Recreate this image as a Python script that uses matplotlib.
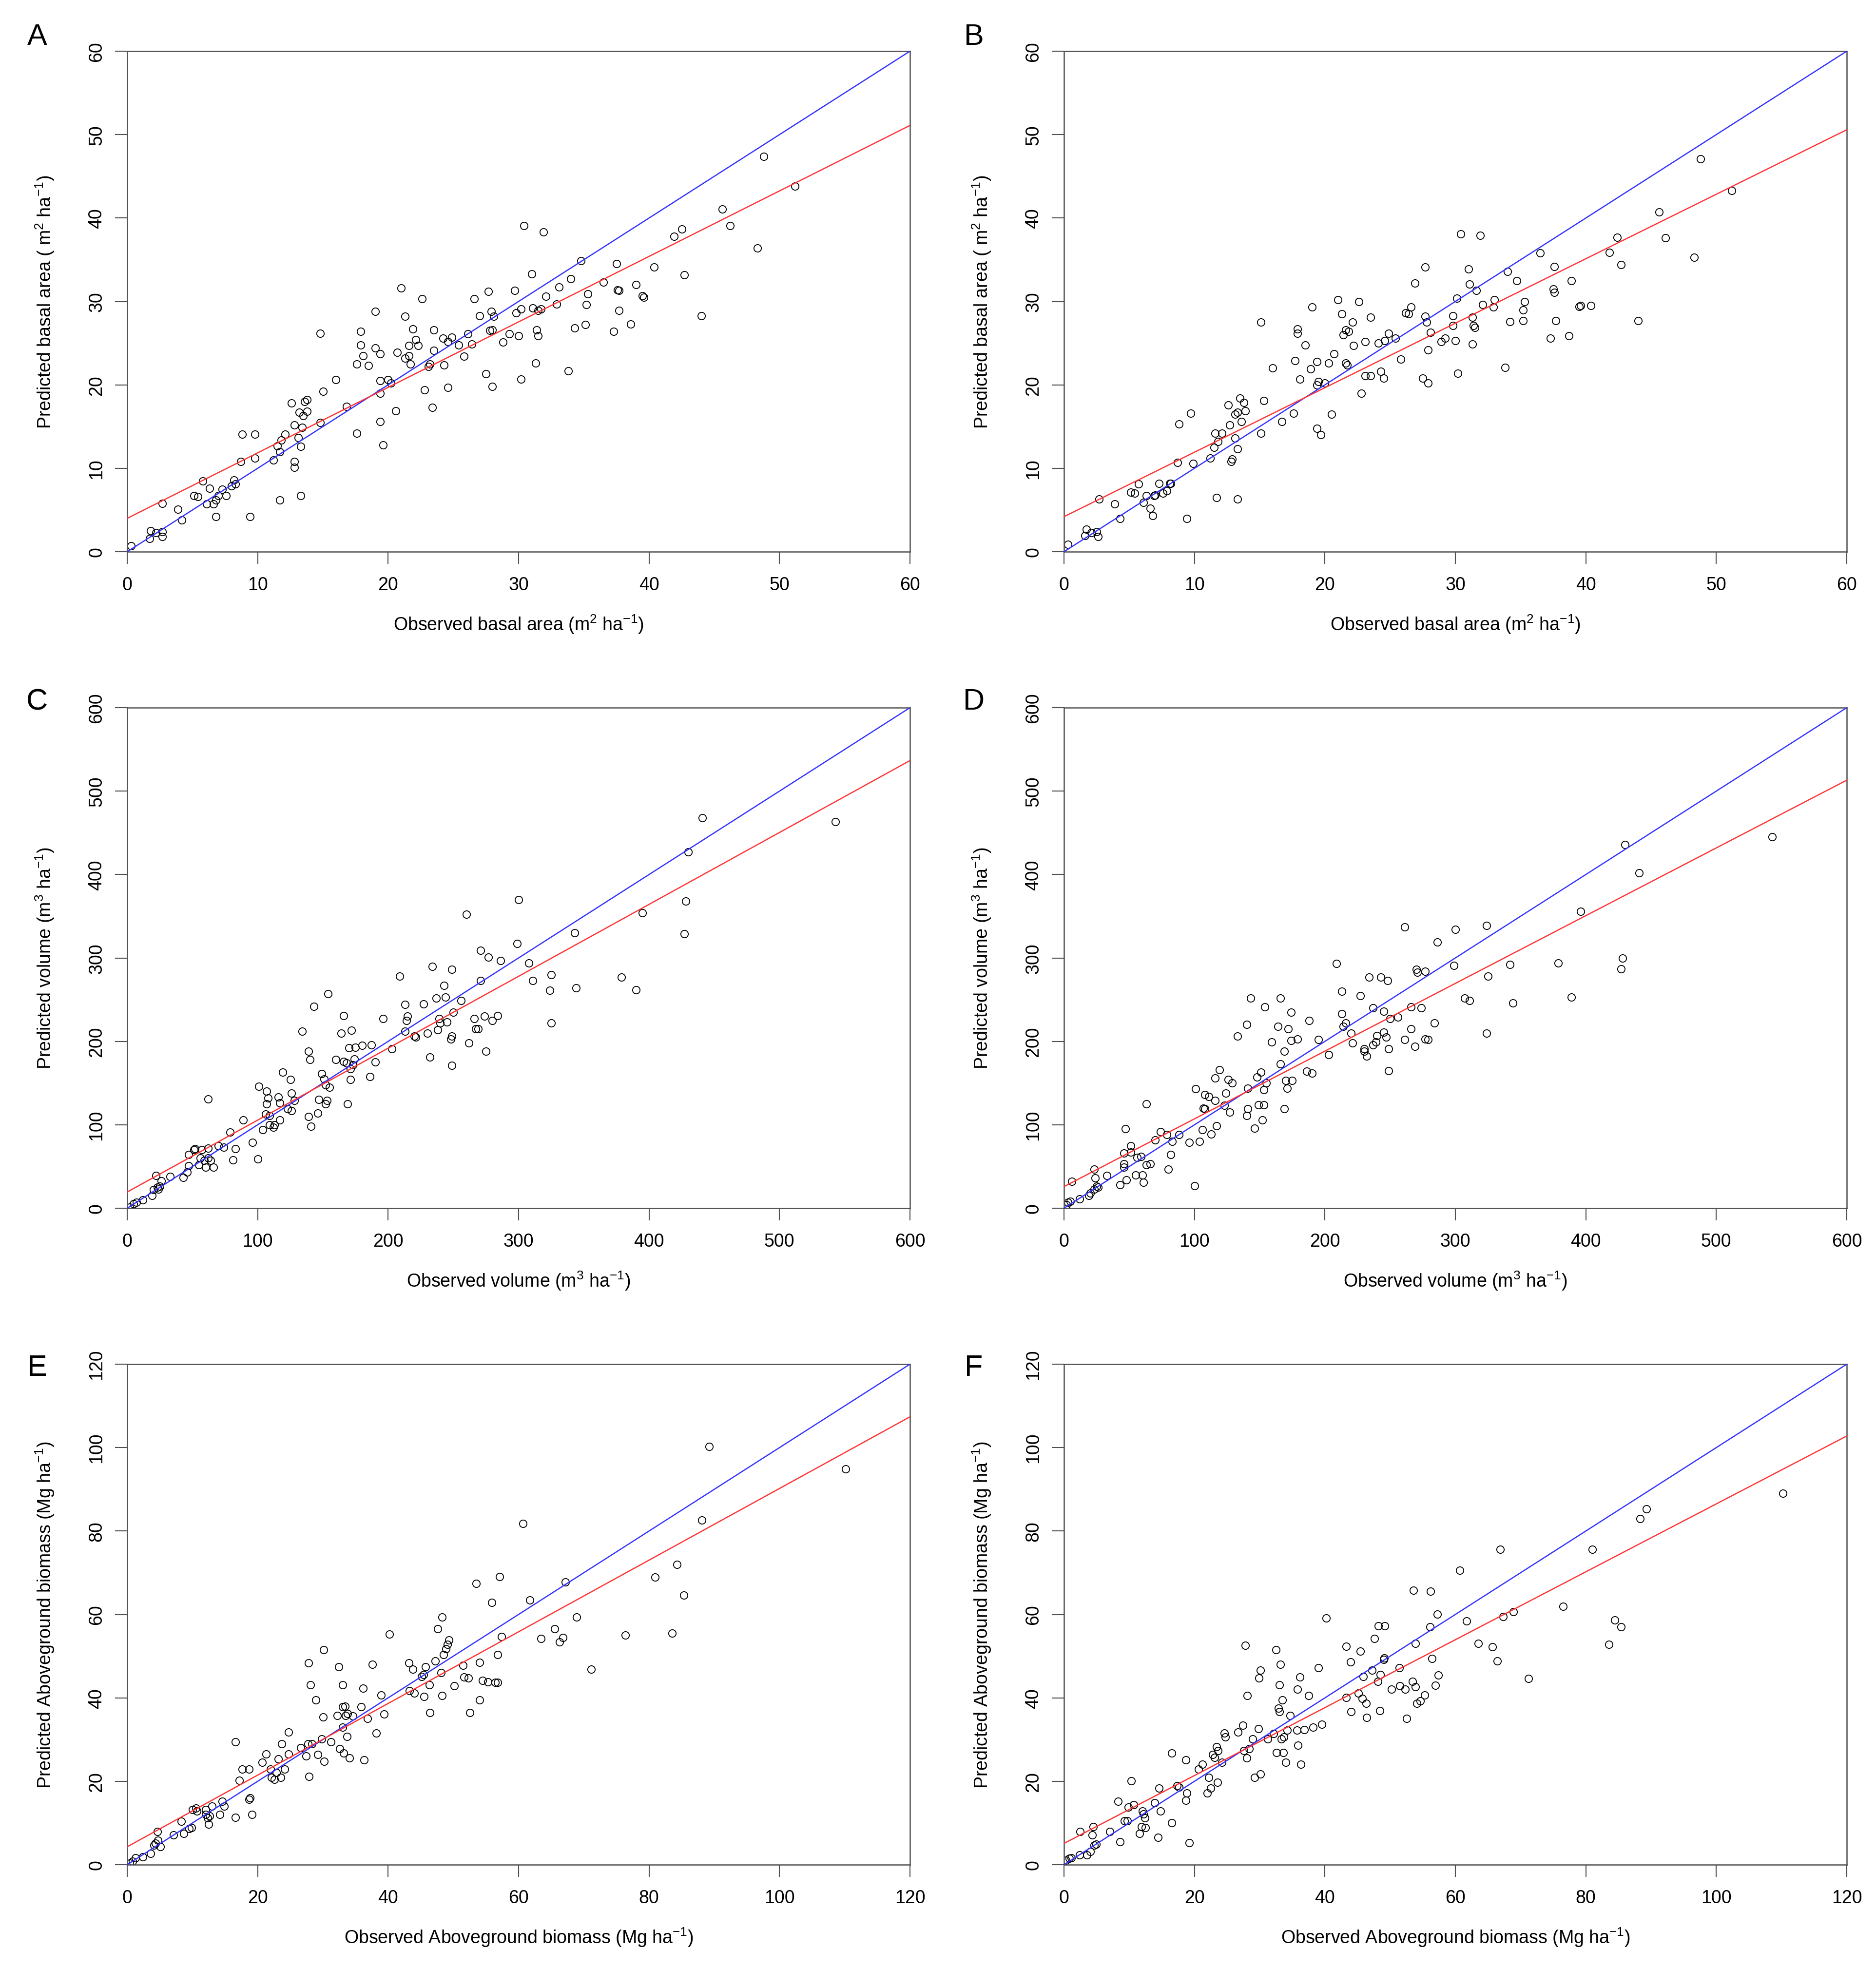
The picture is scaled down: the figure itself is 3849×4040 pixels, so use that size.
import numpy as np
import matplotlib
matplotlib.use('Agg')
import matplotlib.pyplot as plt

plt.rcParams['font.family'] = ['Liberation Sans', 'DejaVu Sans']
plt.rcParams['mathtext.fontset'] = 'custom'
plt.rcParams['mathtext.rm'] = 'Liberation Sans'
plt.rcParams['mathtext.it'] = 'Liberation Sans'
plt.rcParams['mathtext.default'] = 'regular'

# panel A: basal area, observed vs predicted
a_obs = [0.3, 1.7, 1.8, 2.2, 2.7, 2.7, 2.7, 3.9, 4.2, 5.1, 5.4, 5.8, 6.1, 6.3, 6.6, 6.8, 6.8, 7.0, 7.3, 7.6,
         8.0, 8.2, 8.3, 8.8, 8.7, 9.4, 9.8, 9.8, 11.2, 11.5, 11.7, 11.7, 11.8, 12.1, 12.6, 12.8, 12.8, 12.8, 13.1, 13.2,
         13.3, 13.3, 13.4, 13.5, 13.6, 13.8, 13.8, 14.8, 14.8, 15.0, 16.0, 16.8, 17.6, 17.6, 17.9, 17.9, 18.1, 18.5, 19.0, 19.0,
         19.4, 19.4, 19.4, 19.4, 19.6, 20.0, 20.2, 20.6, 20.7, 21.0, 21.3, 21.3, 21.6, 21.7, 21.6, 21.9, 22.1, 22.3, 22.6, 22.8,
         23.1, 23.2, 23.4, 23.5, 23.5, 24.2, 24.3, 24.6, 24.6, 24.9, 25.4, 25.8, 26.1, 26.4, 26.6, 27.0, 27.5, 27.7, 27.8, 27.9,
         28.0, 28.0, 28.1, 28.8, 29.3, 29.7, 29.8, 30.0, 30.2, 30.2, 30.4, 31.0, 31.1, 31.3, 31.4, 31.5, 31.5, 31.7, 31.9, 32.1,
         32.9, 33.1, 33.8, 34.0, 34.3, 34.8, 35.1, 35.2, 35.3, 36.5, 37.3, 37.5, 37.6, 37.7, 37.7, 38.6, 39.0, 39.5, 39.6, 40.4,
         41.9, 42.5, 42.7, 44.0, 45.6, 46.2, 48.3, 48.8, 51.2]
a_pred = [0.7, 1.6, 2.5, 2.3, 2.4, 1.8, 5.8, 5.1, 3.8, 6.7, 6.6, 8.5, 5.7, 7.6, 5.7, 6.2, 4.2, 6.7, 7.5, 6.7,
          7.9, 8.6, 8.1, 14.1, 10.8, 4.2, 14.1, 11.2, 11.0, 12.7, 6.2, 12.0, 13.4, 14.1, 17.8, 15.2, 10.8, 10.1, 13.7, 16.7,
          12.6, 6.7, 14.9, 16.3, 18.0, 18.2, 16.8, 26.2, 15.5, 19.2, 20.6, 17.4, 14.2, 22.5, 26.4, 24.8, 23.5, 22.3, 28.8, 24.4,
          23.7, 19.0, 20.5, 15.6, 12.8, 20.6, 20.2, 16.9, 23.9, 31.6, 28.2, 23.2, 23.5, 22.5, 24.7, 26.7, 25.4, 24.7, 30.3, 19.4,
          22.2, 22.5, 17.3, 24.1, 26.6, 25.6, 22.4, 25.2, 19.7, 25.7, 24.8, 23.4, 26.1, 24.9, 30.3, 28.3, 21.3, 31.2, 26.5, 28.8,
          26.6, 19.8, 28.2, 25.1, 26.1, 31.3, 28.6, 25.9, 29.1, 20.7, 39.1, 33.3, 29.2, 22.6, 26.6, 25.9, 28.9, 29.1, 38.3, 30.6,
          29.7, 31.7, 21.7, 32.7, 26.8, 34.9, 27.2, 29.6, 30.9, 32.3, 26.4, 34.5, 31.4, 31.3, 28.9, 27.3, 32.0, 30.7, 30.5, 34.1,
          37.8, 38.7, 33.2, 28.3, 41.1, 39.1, 36.4, 47.4, 43.8]

# panel B: basal area, second model
b_obs = [0.3, 1.7, 1.6, 2.1, 2.5, 2.6, 2.7, 3.9, 4.3, 5.1, 5.4, 5.7, 6.1, 6.3, 6.6, 6.8, 6.9, 7.0, 7.3, 7.6,
         7.9, 8.1, 8.2, 8.7, 8.8, 9.4, 9.7, 9.9, 11.2, 11.5, 11.7, 11.8, 11.6, 12.1, 12.6, 12.7, 12.8, 12.9, 13.1, 13.1,
         13.3, 13.3, 13.3, 13.5, 13.6, 13.8, 13.9, 15.1, 15.1, 15.3, 16.0, 16.7, 17.6, 17.7, 17.9, 17.9, 18.1, 18.5, 18.9, 19.0,
         19.4, 19.4, 19.4, 19.7, 19.5, 20.0, 20.3, 20.5, 20.7, 21.0, 21.3, 21.4, 21.6, 21.6, 21.7, 21.8, 22.1, 22.2, 22.6, 22.8,
         23.1, 23.5, 23.1, 23.5, 24.1, 24.3, 24.5, 24.6, 24.9, 25.4, 25.8, 26.2, 26.4, 26.6, 26.9, 27.5, 27.7, 27.7, 27.8, 27.9,
         27.9, 28.1, 28.9, 29.2, 29.8, 29.8, 30.0, 30.1, 30.2, 30.4, 31.0, 31.1, 31.3, 31.3, 31.4, 31.5, 31.6, 31.9, 32.1, 32.9,
         33.0, 33.8, 34.0, 34.2, 34.7, 35.2, 35.2, 35.3, 36.5, 37.3, 37.5, 37.6, 37.6, 37.7, 38.7, 38.9, 39.5, 39.6, 40.4, 41.8,
         42.4, 42.7, 44.0, 45.6, 46.1, 48.3, 48.8, 51.2]
b_pred = [0.9, 2.7, 1.9, 2.3, 2.4, 1.8, 6.3, 5.7, 4.0, 7.1, 7.0, 8.1, 5.9, 6.7, 5.2, 4.3, 6.7, 6.8, 8.2, 7.0,
          7.3, 8.2, 8.2, 10.7, 15.3, 4.0, 16.6, 10.6, 11.2, 12.5, 6.5, 13.2, 14.2, 14.2, 17.6, 15.2, 10.8, 11.1, 13.6, 16.5,
          12.3, 6.3, 16.7, 18.4, 15.6, 17.9, 16.9, 27.5, 14.2, 18.1, 22.0, 15.6, 16.6, 22.9, 26.7, 26.2, 20.7, 24.8, 21.9, 29.3,
          22.8, 20.0, 14.8, 14.0, 20.4, 20.2, 22.6, 16.5, 23.7, 30.2, 28.5, 26.0, 22.6, 26.6, 22.4, 26.4, 27.5, 24.7, 30.0, 19.0,
          21.1, 21.1, 25.2, 28.1, 25.0, 21.6, 20.8, 25.3, 26.2, 25.6, 23.1, 28.6, 28.5, 29.3, 32.2, 20.8, 34.1, 28.2, 27.5, 20.2,
          24.2, 26.3, 25.2, 25.6, 28.3, 27.1, 25.3, 30.4, 21.4, 38.1, 33.9, 32.1, 24.9, 28.1, 27.1, 26.9, 31.3, 37.9, 29.6, 29.3,
          30.2, 22.1, 33.6, 27.6, 32.5, 29.0, 27.7, 30.0, 35.8, 25.6, 31.5, 34.2, 31.1, 27.7, 25.9, 32.5, 29.4, 29.5, 29.5, 35.9,
          37.7, 34.4, 27.7, 40.7, 37.6, 35.3, 47.1, 43.3]

# panel C: volume
c_obs = [2, 5, 7, 12, 19, 20, 22, 23, 24, 25, 26, 33, 43, 46, 47, 47, 51, 52, 55, 56,
         57, 59, 60, 62, 62, 62, 64, 66, 70, 74, 79, 81, 83, 89, 96, 100, 101, 104, 106, 107,
         107, 108, 109, 109, 112, 113, 116, 117, 117, 119, 123, 125, 126, 126, 128, 134, 139, 140, 139, 141,
         143, 146, 147, 149, 151, 152, 152, 153, 154, 155, 160, 164, 166, 166, 168, 169, 170, 171, 171, 172,
         173, 174, 175, 180, 186, 187, 190, 196, 203, 209, 213, 213, 214, 215, 220, 221, 227, 230, 232, 234,
         237, 238, 239, 240, 243, 244, 245, 248, 249, 249, 249, 250, 256, 260, 262, 266, 267, 269, 271, 271,
         274, 275, 277, 280, 284, 286, 299, 300, 308, 311, 324, 325, 325, 343, 344, 379, 390, 395, 427, 428,
         430, 441, 543]
c_pred = [1, 5, 7, 10, 15, 22, 39, 25, 23, 26, 33, 38, 37, 43, 51, 64, 70, 71, 52, 60,
          70, 57, 49, 131, 72, 60, 57, 49, 75, 73, 91, 58, 71, 106, 79, 59, 146, 94, 113, 140,
          125, 132, 111, 100, 97, 100, 133, 106, 126, 163, 119, 154, 138, 117, 129, 212, 188, 178, 110, 98,
          242, 114, 130, 161, 155, 125, 148, 129, 257, 145, 178, 210, 231, 176, 174, 125, 192, 167, 154, 213,
          172, 179, 193, 195, 158, 196, 175, 227, 191, 278, 244, 212, 225, 230, 206, 205, 245, 210, 181, 290,
          252, 214, 227, 222, 267, 253, 223, 203, 206, 286, 171, 235, 249, 352, 198, 227, 215, 215, 273, 309,
          230, 188, 301, 225, 231, 297, 317, 370, 294, 273, 261, 222, 280, 330, 264, 277, 262, 354, 329, 368,
          427, 468, 463]

# panel D: volume, second model
d_obs = [2, 3, 5, 6, 12, 19, 20, 23, 23, 24, 25, 26, 33, 43, 46, 46, 47, 48, 46, 51,
         51, 55, 56, 59, 60, 61, 63, 63, 66, 70, 74, 79, 80, 82, 83, 88, 96, 100, 101, 104,
         106, 107, 108, 108, 111, 113, 116, 116, 117, 119, 123, 124, 126, 127, 129, 133, 140, 140, 141, 141,
         143, 146, 148, 149, 151, 152, 153, 153, 154, 155, 159, 164, 166, 166, 169, 169, 170, 171, 172, 174,
         174, 175, 179, 186, 188, 190, 195, 203, 209, 213, 213, 214, 216, 220, 221, 227, 230, 230, 232, 234,
         237, 237, 239, 240, 243, 245, 245, 247, 248, 249, 249, 250, 256, 261, 261, 266, 266, 269, 270, 271,
         274, 277, 277, 279, 284, 286, 299, 300, 307, 311, 324, 324, 325, 342, 344, 379, 389, 396, 427, 428,
         430, 441, 543]
d_pred = [4, 7, 8, 32, 11, 15, 18, 23, 47, 36, 26, 25, 39, 28, 49, 53, 95, 34, 66, 67,
          75, 40, 61, 62, 40, 31, 125, 52, 53, 82, 92, 88, 47, 64, 80, 88, 79, 27, 143, 80,
          94, 120, 136, 119, 134, 89, 156, 129, 99, 166, 123, 138, 154, 115, 150, 206, 111, 220, 144, 119,
          252, 96, 157, 124, 163, 106, 142, 124, 241, 150, 199, 218, 252, 173, 119, 188, 153, 144, 215, 235,
          201, 153, 203, 164, 225, 162, 202, 184, 293, 260, 233, 218, 222, 210, 198, 255, 191, 188, 182, 277,
          240, 196, 199, 207, 277, 236, 211, 205, 273, 191, 165, 227, 229, 337, 202, 241, 215, 194, 286, 283,
          240, 284, 203, 202, 222, 319, 291, 334, 252, 249, 339, 210, 278, 292, 246, 294, 253, 356, 287, 300,
          436, 402, 445]

# panel E: aboveground biomass
e_obs = [0.4, 0.8, 1.3, 2.4, 3.6, 4.1, 4.3, 4.6, 4.7, 5.1, 7.1, 8.3, 8.7, 9.5, 9.9, 10.0, 10.5, 10.7, 12.0, 12.0,
         12.3, 12.5, 12.6, 13.0, 14.2, 14.6, 14.9, 16.6, 16.6, 17.2, 17.6, 18.7, 18.7, 18.8, 19.1, 20.7, 21.3, 22.0, 22.1, 22.6,
         22.9, 23.2, 23.5, 23.7, 24.1, 24.7, 24.7, 26.6, 27.4, 27.7, 27.8, 27.9, 28.1, 28.3, 28.9, 29.2, 29.8, 30.0, 30.1, 30.2,
         31.2, 32.2, 32.4, 32.6, 33.0, 33.0, 33.0, 33.2, 33.4, 33.5, 33.7, 33.8, 34.1, 34.6, 35.9, 36.2, 36.3, 36.8, 37.6, 38.2,
         38.9, 39.4, 40.2, 43.2, 43.3, 43.8, 44.0, 45.1, 45.4, 45.5, 45.7, 46.3, 46.4, 47.2, 47.6, 48.1, 48.3, 48.3, 48.5, 48.9,
         49.1, 49.3, 50.1, 51.5, 51.6, 52.3, 52.5, 53.5, 54.0, 54.0, 54.5, 55.3, 55.9, 56.4, 56.8, 56.8, 57.1, 57.4, 60.7, 61.7,
         63.4, 65.5, 66.3, 66.8, 67.2, 68.9, 71.1, 76.4, 80.9, 83.5, 84.3, 85.3, 88.1, 89.2, 110.1]
e_pred = [0.3, 0.8, 1.6, 1.9, 2.7, 4.7, 5.1, 7.9, 5.9, 4.3, 7.1, 10.4, 7.5, 8.7, 8.9, 13.2, 13.6, 12.9, 13.2, 12.0,
          11.2, 9.7, 11.7, 14.0, 12.0, 15.2, 14.0, 29.4, 11.3, 20.2, 22.9, 22.9, 15.6, 16.0, 12.0, 24.5, 26.5, 22.9, 20.9, 20.5,
          22.1, 25.3, 20.9, 29.0, 22.9, 26.5, 31.8, 28.0, 26.1, 29.0, 48.4, 21.1, 43.1, 29.0, 39.5, 26.4, 30.2, 35.4, 51.5, 24.8,
          29.4, 35.8, 47.4, 27.8, 43.1, 37.9, 33.0, 26.7, 38.0, 35.8, 30.7, 36.2, 25.6, 35.6, 37.9, 42.3, 25.1, 35.0, 48.0, 31.6,
          40.7, 36.1, 55.3, 48.4, 41.7, 46.8, 41.1, 45.1, 45.6, 40.3, 47.4, 43.1, 36.4, 48.8, 56.5, 46.0, 40.5, 59.3, 50.4, 51.8,
          52.8, 53.9, 42.9, 47.8, 45.0, 44.7, 36.4, 67.4, 48.5, 39.5, 44.2, 43.8, 62.9, 43.7, 43.7, 50.4, 69.0, 54.7, 81.8, 63.5,
          54.2, 56.5, 53.4, 54.4, 67.8, 59.3, 46.9, 55.0, 68.9, 55.5, 72.0, 64.6, 82.6, 100.3, 94.9]

# panel F: aboveground biomass, second model
f_obs = [0.3, 0.8, 1.1, 2.4, 2.5, 3.5, 4.0, 4.3, 4.5, 4.6, 4.9, 7.0, 8.3, 8.6, 9.3, 9.7, 9.9, 10.3, 10.7, 11.6,
         11.9, 12.0, 12.2, 12.4, 12.5, 13.9, 14.4, 14.6, 14.8, 16.5, 16.5, 17.3, 17.6, 18.7, 18.7, 18.8, 19.2, 20.6, 21.2, 22.0,
         22.2, 22.5, 22.8, 23.1, 23.4, 23.5, 23.6, 24.2, 24.6, 24.7, 26.7, 27.4, 27.6, 27.8, 28.0, 28.1, 28.4, 28.9, 29.2, 29.8,
         29.9, 30.1, 30.1, 31.2, 32.1, 32.5, 32.6, 32.9, 33.0, 33.0, 33.2, 33.3, 33.5, 33.6, 33.7, 34.0, 34.2, 34.7, 35.7, 35.8,
         35.9, 36.2, 36.3, 36.8, 37.5, 38.2, 39.0, 39.5, 40.2, 43.3, 43.3, 43.9, 44.0, 45.1, 45.4, 45.7, 45.9, 46.3, 46.4, 47.2,
         47.6, 48.1, 48.2, 48.4, 48.5, 49.0, 49.1, 49.2, 50.2, 51.4, 51.5, 52.3, 52.5, 53.4, 53.6, 53.9, 53.9, 54.1, 54.6, 55.3,
         56.1, 56.2, 56.4, 56.9, 57.2, 57.4, 60.7, 61.7, 63.5, 65.7, 66.4, 66.9, 67.3, 68.9, 71.2, 76.5, 81.0, 83.5, 84.4, 85.4,
         88.3, 89.3, 110.2]
f_pred = [1.1, 1.5, 1.6, 2.3, 7.9, 2.3, 3.2, 7.1, 9.1, 4.7, 4.9, 7.9, 15.2, 5.5, 10.5, 10.5, 13.8, 20.1, 14.4, 7.5,
          9.1, 12.8, 12.1, 11.2, 8.9, 14.8, 6.5, 18.3, 12.8, 26.7, 10.0, 18.9, 18.6, 25.1, 15.4, 17.2, 5.3, 22.9, 24.1, 17.2,
          20.9, 18.4, 26.4, 25.7, 28.3, 19.7, 27.3, 24.5, 31.6, 30.6, 31.8, 33.4, 27.3, 52.6, 25.6, 40.5, 27.8, 30.2, 20.9, 32.6,
          44.7, 21.7, 46.6, 30.2, 31.4, 51.5, 26.9, 37.5, 36.7, 43.1, 48.0, 30.2, 39.5, 26.9, 30.6, 24.5, 32.2, 35.8, 32.2, 42.1,
          28.6, 45.0, 24.1, 32.4, 40.5, 33.0, 47.2, 33.7, 59.1, 40.1, 52.3, 48.6, 36.7, 41.1, 51.2, 39.9, 45.1, 38.7, 35.3, 46.6,
          54.2, 43.9, 57.3, 36.9, 45.6, 49.2, 49.6, 57.3, 42.1, 47.2, 42.9, 42.1, 35.0, 43.9, 65.8, 53.1, 42.7, 38.7, 39.3, 40.7,
          57.0, 65.5, 49.4, 43.0, 60.1, 45.4, 70.6, 58.4, 53.1, 52.2, 48.8, 75.6, 59.5, 60.7, 44.6, 61.9, 75.6, 52.8, 58.7, 57.0,
          83.0, 85.3, 89.0]

# red fitted lines: intercept, slope
fit_a = [4.0, 0.785]
fit_b = [4.2, 0.773]
fit_c = [19.4, 0.862]
fit_d = [25.9, 0.812]
fit_e = [4.3, 0.859]
fit_f = [5.1, 0.814]

ba_ticks = [0, 10, 20, 30, 40, 50, 60]
vol_ticks = [0, 100, 200, 300, 400, 500, 600]
agb_ticks = [0, 20, 40, 60, 80, 100, 120]

ba_x = r'Observed basal area (m$^2$ ha$^{-1}$)'
ba_y = r'Predicted basal area ( m$^2$ ha$^{-1}$)'
vol_x = r'Observed volume (m$^3$ ha$^{-1}$)'
vol_y = r'Predicted volume (m$^3$ ha$^{-1}$)'
agb_x = r'Observed Aboveground biomass (Mg ha$^{-1}$)'
agb_y = r'Predicted Aboveground biomass (Mg ha$^{-1}$)'

panels = [
    ('A', a_obs, a_pred, fit_a, ba_ticks, ba_x, ba_y),
    ('B', b_obs, b_pred, fit_b, ba_ticks, ba_x, ba_y),
    ('C', c_obs, c_pred, fit_c, vol_ticks, vol_x, vol_y),
    ('D', d_obs, d_pred, fit_d, vol_ticks, vol_x, vol_y),
    ('E', e_obs, e_pred, fit_e, agb_ticks, agb_x, agb_y),
    ('F', f_obs, f_pred, fit_f, agb_ticks, agb_x, agb_y),
]

W, H = 3849, 4041
fig = plt.figure(figsize=(W / 100, H / 100), dpi=100)

lefts = [261, 2183]
tops = [106, 1453, 2800]
ax_w, ax_h = 1606, 1027
letter_y = [77, 1441, 2808]
letter_x = [76, 1998]
gray = '#505050'

for i, (tag, obs, pred, fit, ticks, xl, yl) in enumerate(panels):
    row, col = i // 2, i % 2
    ax = fig.add_axes([lefts[col] / W, 1 - (tops[row] + ax_h) / H, ax_w / W, ax_h / H])
    ax.plot(obs, pred, 'o', mfc='none', mec='black', ms=11, mew=1.3, zorder=2)
    ax.axline((0, 0), slope=1, color='#3333ff', lw=1.8, zorder=3)
    ax.axline((0, fit[0]), slope=fit[1], color='#ff3333', lw=1.8, zorder=3)
    ax.set_xlim(ticks[0], ticks[-1])
    ax.set_ylim(ticks[0], ticks[-1])
    ax.set_xticks(ticks)
    ax.set_yticks(ticks)
    for s in ax.spines.values():
        s.set_color(gray)
        s.set_linewidth(1.8)
    ax.tick_params(length=18, width=1.5, color=gray, labelsize=27, pad=18)
    ax.tick_params(axis='y', labelrotation=90, pad=14)
    for lab in ax.get_yticklabels():
        lab.set_va('center')
    ax.set_xlabel(xl, fontsize=27, va='center')
    ax.set_ylabel(yl, fontsize=27, va='center')
    ax.xaxis.set_label_coords(0.5, -0.144)
    ax.yaxis.set_label_coords(-0.105, 0.5)
    fig.text(letter_x[col] / W, 1 - letter_y[row] / H, tag, fontsize=44, ha='center', va='center')

fig.savefig('out.png', dpi=100, facecolor='white')
